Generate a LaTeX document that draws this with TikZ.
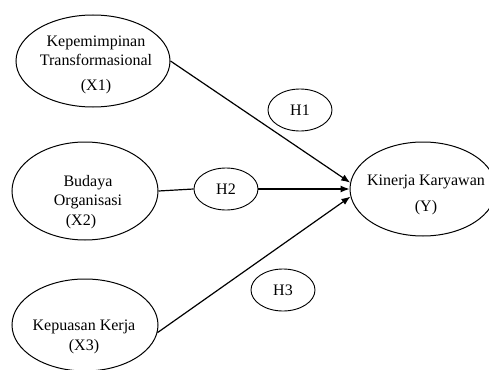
\documentclass[tikz,border=0pt]{standalone}
\usepackage{fontspec}
\setmainfont{Liberation Serif}
\usetikzlibrary{shapes.geometric,arrows.meta}

\tikzset{
  var/.style={draw, ellipse, line width=1pt, inner sep=0pt},
  hyp/.style={draw, ellipse, line width=0.9pt, inner sep=0pt,
    minimum width=64pt, minimum height=42pt},
  txt/.style={align=center, inner sep=0pt,
    font=\fontsize{16}{19.5}\selectfont},
  path/.style={line width=1.2pt, -{Latex[length=9pt,width=7pt]}}
}

\begin{document}
\begin{tikzpicture}[x=1pt, y=-1pt]
    \useasboundingbox (0,0) rectangle (489,369);

    % variables
    \node[var, minimum width=154pt, minimum height=92pt] (x1) at (93,61) {};
    \node[var, minimum width=146pt, minimum height=98pt] (x2) at (85,191) {};
    \node[var, minimum width=146pt, minimum height=92pt] (x3) at (85,325) {};
    \node[var, minimum width=146pt, minimum height=94pt] (y) at (423,189) {};

    \node[txt] (x1t) at (96,65) {Kepemimpinan\\Transformasional\\[5.5pt](X1)};
    \node[txt] (x2t) at (88,202) {Budaya\\Organisasi\\\hspace*{-14pt}(X2)};
    \node[txt] (x3t) at (84,337) {Kepuasan Kerja\\(X3)};
    \node[txt] (yt) at (426,195) {Kinerja Karyawan\\[6.5pt](Y)};

    % hypotheses
    \node[hyp, txt] (h1) at (300,110) {H1};
    \node[hyp, txt] (h2) at (226,189) {H2};
    \node[hyp, txt] (h3) at (283,290) {H3};

    % paths
    \draw[path] (x1.east) -- (y.175);
    \draw[line width=1.2pt] (x2.east) -- (h2.west);
    \draw[path] (h2.east) -- (y.west);
    \draw[path] (x3.-6) -- (y.186);
\end{tikzpicture}
\end{document}
